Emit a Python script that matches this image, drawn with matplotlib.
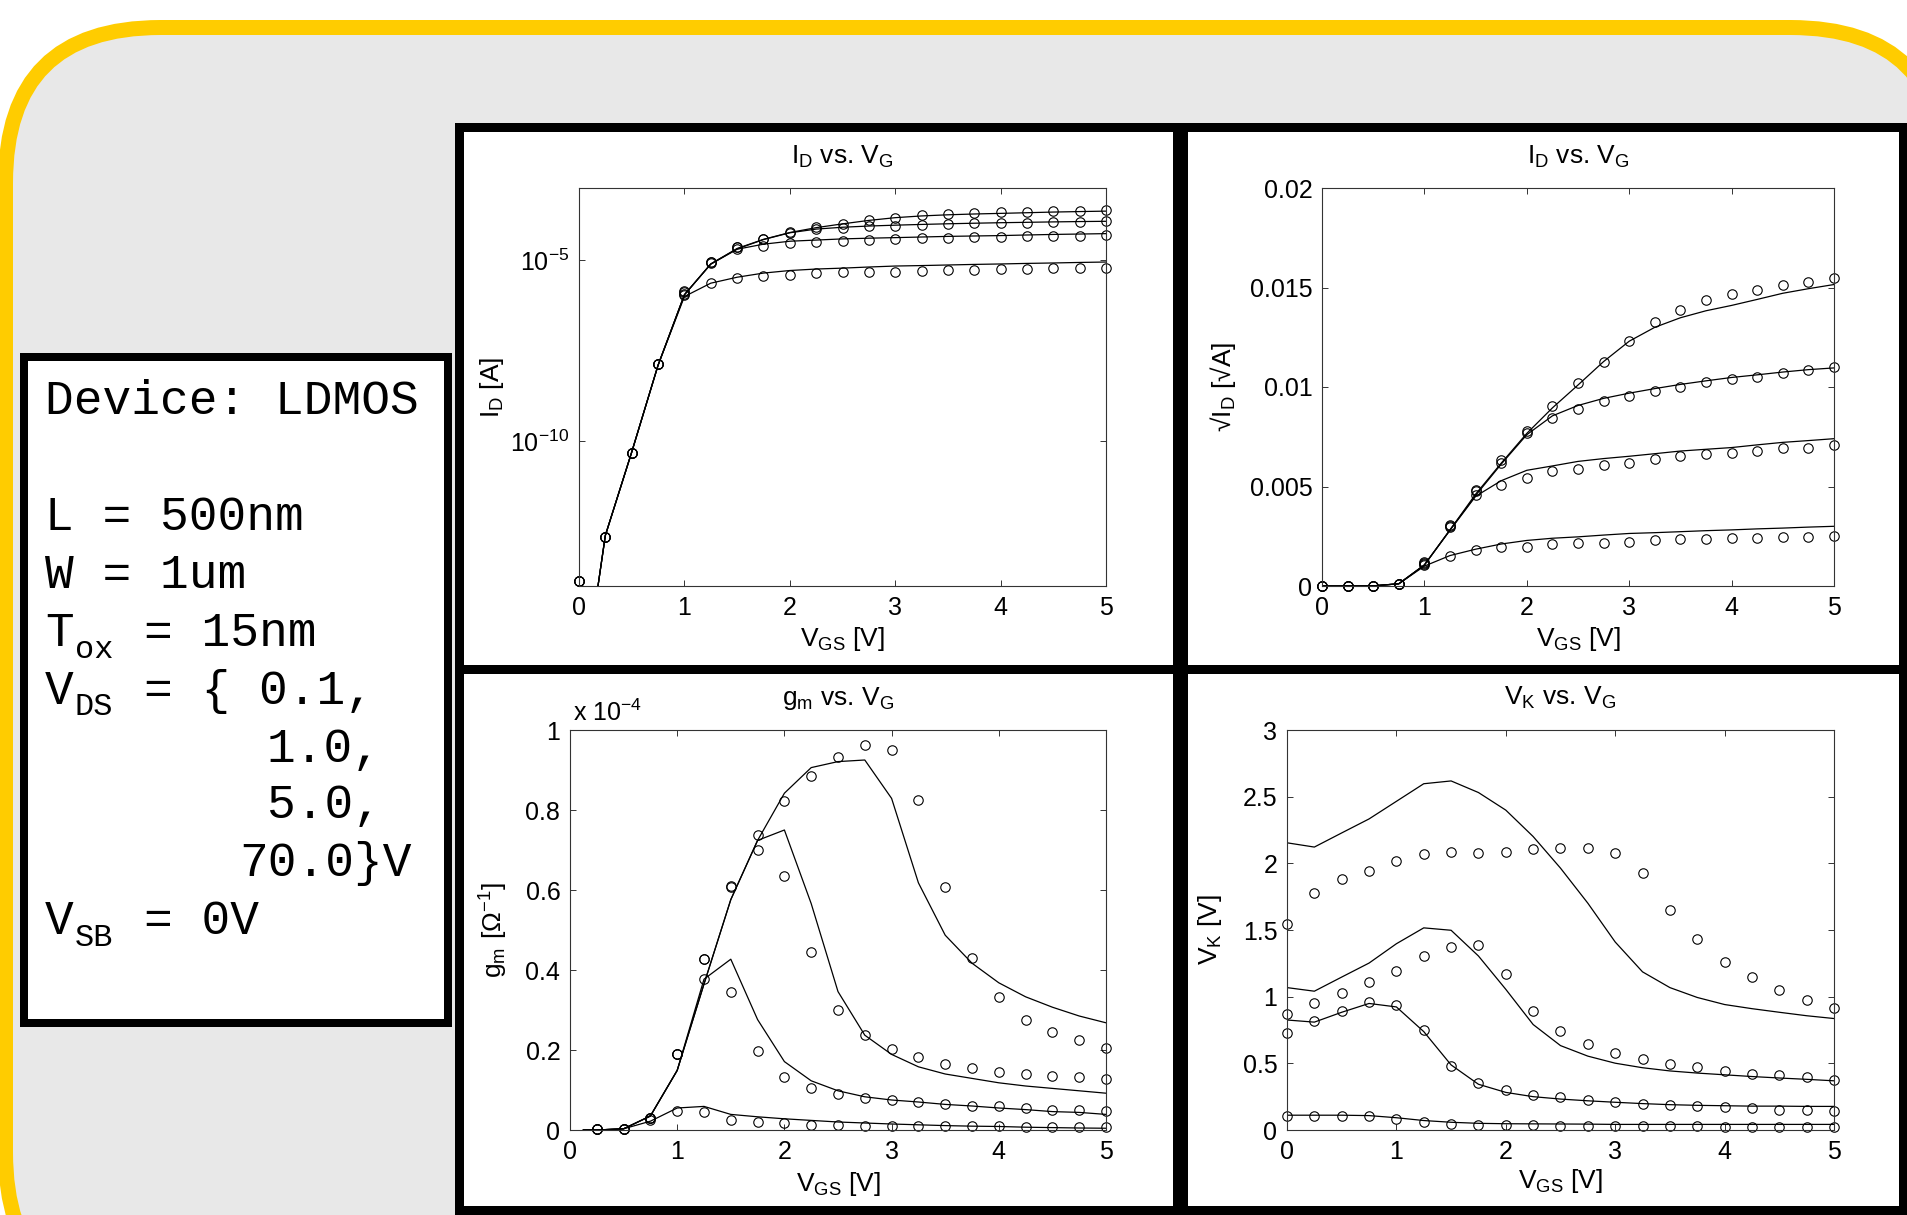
import matplotlib
matplotlib.use("Agg")
import matplotlib.pyplot as plt
import numpy as np
from matplotlib.patches import FancyBboxPatch, Rectangle
from matplotlib.ticker import NullLocator

plt.rcParams["font.family"] = ["Liberation Sans", "DejaVu Sans"]
plt.rcParams["axes.unicode_minus"] = False

W, H = 1908, 1215

# ── Data ──────────────────────────────────────────────────────────────
VGS = [0.0, 0.25, 0.5, 0.75, 1.0, 1.25, 1.5, 1.75, 2.0, 2.25, 2.5,
       2.75, 3.0, 3.25, 3.5, 3.75, 4.0, 4.25, 4.5, 4.75, 5.0]
VDS_LIST = [0.1, 1.0, 5.0, 70.0]

# drain current [A], measured (circles) and model (lines), one list per VDS
id_meas_01 = [1.4e-14, 2.3e-13, 4.7e-11, 1.35e-8, 1.12e-6, 2.34e-6, 3.24e-6, 3.76e-6, 3.88e-6, 4.45e-6, 4.62e-6,
              4.62e-6, 4.84e-6, 5.24e-6, 5.48e-6, 5.48e-6, 5.81e-6, 5.81e-6, 6.10e-6, 6.10e-6, 6.25e-6]
id_meas_1 = [1.4e-14, 2.3e-13, 4.7e-11, 1.35e-8, 1.21e-6, 8.70e-6, 2.10e-5, 2.56e-5, 2.95e-5, 3.32e-5, 3.48e-5,
             3.70e-5, 3.84e-5, 4.07e-5, 4.25e-5, 4.37e-5, 4.44e-5, 4.60e-5, 4.78e-5, 4.84e-5, 5.01e-5]
id_meas_5 = [1.4e-14, 2.3e-13, 4.7e-11, 1.35e-8, 1.32e-6, 9.0e-6, 2.30e-5, 3.84e-5, 5.88e-5, 7.16e-5, 7.92e-5,
             8.63e-5, 9.16e-5, 9.62e-5, 9.98e-5, 1.053e-4, 1.082e-4, 1.107e-4, 1.147e-4, 1.182e-4, 1.212e-4]
id_meas_70 = [1.4e-14, 2.3e-13, 4.7e-11, 1.35e-8, 1.44e-6, 9.30e-6, 2.35e-5, 3.98e-5, 6.07e-5, 8.14e-5, 1.036e-4,
              1.272e-4, 1.513e-4, 1.756e-4, 1.929e-4, 2.062e-4, 2.155e-4, 2.217e-4, 2.286e-4, 2.341e-4, 2.393e-4]

id_mod_01 = [2.5e-18, 2.5e-13, 5.0e-11, 1.26e-8, 1.0e-6, 2.34e-6, 3.42e-6, 4.45e-6, 5.24e-6, 5.76e-6, 6.10e-6,
             6.55e-6, 6.97e-6, 7.18e-6, 7.45e-6, 7.73e-6, 7.95e-6, 8.24e-6, 8.47e-6, 8.76e-6, 9.0e-6]
id_mod_1 = [2.5e-18, 2.5e-13, 5.0e-11, 1.26e-8, 1.12e-6, 7.84e-6, 2.03e-5, 2.80e-5, 3.38e-5, 3.64e-5, 3.92e-5,
            4.10e-5, 4.25e-5, 4.42e-5, 4.60e-5, 4.72e-5, 4.84e-5, 5.03e-5, 5.21e-5, 5.34e-5, 5.48e-5]
id_mod_5 = [2.5e-18, 2.5e-13, 5.0e-11, 1.26e-8, 1.12e-6, 7.95e-6, 2.07e-5, 3.75e-5, 5.78e-5, 7.31e-5, 8.23e-5,
            8.89e-5, 9.39e-5, 9.84e-5, 1.026e-4, 1.063e-4, 1.098e-4, 1.126e-4, 1.156e-4, 1.182e-4, 1.201e-4]
id_mod_70 = [2.5e-18, 2.5e-13, 5.0e-11, 1.26e-8, 1.12e-6, 7.95e-6, 2.13e-5, 3.81e-5, 5.88e-5, 8.01e-5, 1.020e-4,
             1.272e-4, 1.513e-4, 1.69e-4, 1.817e-4, 1.913e-4, 1.988e-4, 2.074e-4, 2.164e-4, 2.232e-4, 2.295e-4]

# transconductance, in units of 1e-4 S
VGS_GM_MEAS = [0.25, 0.5, 0.75, 1.0, 1.25, 1.5, 1.75, 2.0, 2.25, 2.5,
               2.75, 3.0, 3.25, 3.5, 3.75, 4.0, 4.25, 4.5, 4.75, 5.0]
VGS_GM_MOD = [0.125, 0.25, 0.5, 0.75, 1.0, 1.25, 1.5, 1.75, 2.0, 2.25, 2.5,
              2.75, 3.0, 3.25, 3.5, 3.75, 4.0, 4.25, 4.5, 4.75, 5.0]
gm_meas_01 = [0.003, 0.003, 0.026, 0.048, 0.044, 0.025, 0.019, 0.0175, 0.013, 0.013,
              0.011, 0.011, 0.0096, 0.0096, 0.0096, 0.0088, 0.007, 0.007, 0.007, 0.007]
gm_meas_1 = [0.003, 0.003, 0.03, 0.189, 0.377, 0.346, 0.197, 0.132, 0.105, 0.09,
             0.079, 0.0746, 0.069, 0.064, 0.06, 0.059, 0.054, 0.05, 0.05, 0.048]
gm_meas_5 = [0.003, 0.003, 0.03, 0.189, 0.427, 0.61, 0.70, 0.636, 0.445, 0.301,
             0.237, 0.202, 0.182, 0.165, 0.155, 0.145, 0.14, 0.134, 0.132, 0.127]
gm_meas_70 = [0.003, 0.003, 0.03, 0.189, 0.427, 0.607, 0.737, 0.822, 0.886, 0.932,
              0.962, 0.95, 0.825, 0.607, 0.43, 0.333, 0.276, 0.246, 0.224, 0.204]

gm_mod_01 = [0, 0, 0.003, 0.022, 0.055, 0.059, 0.039, 0.033, 0.028, 0.024, 0.02,
             0.0175, 0.015, 0.013, 0.011, 0.0096, 0.0088, 0.007, 0.006, 0.005, 0.0044]
gm_mod_1 = [0, 0, 0.003, 0.035, 0.149, 0.377, 0.427, 0.276, 0.171, 0.123, 0.098,
            0.083, 0.075, 0.07, 0.064, 0.06, 0.055, 0.051, 0.046, 0.044, 0.039]
gm_mod_5 = [0, 0, 0.003, 0.035, 0.149, 0.365, 0.576, 0.724, 0.75, 0.566, 0.346,
            0.237, 0.189, 0.158, 0.14, 0.129, 0.118, 0.11, 0.104, 0.098, 0.092]
gm_mod_70 = [0, 0, 0.003, 0.035, 0.149, 0.365, 0.576, 0.724, 0.842, 0.906, 0.921,
             0.925, 0.829, 0.618, 0.487, 0.417, 0.368, 0.333, 0.307, 0.285, 0.268]

# knee voltage [V]
vk_meas_01 = [0.105, 0.105, 0.105, 0.105, 0.079, 0.058, 0.047, 0.04, 0.04, 0.04, 0.032,
              0.032, 0.03, 0.03, 0.028, 0.028, 0.026, 0.026, 0.024, 0.024, 0.024]
vk_meas_1 = [0.725, 0.817, 0.896, 0.962, 0.941, 0.751, 0.482, 0.356, 0.303, 0.264, 0.245,
             0.224, 0.211, 0.198, 0.185, 0.177, 0.171, 0.163, 0.153, 0.15, 0.145]
vk_meas_5 = [0.87, 0.949, 1.028, 1.107, 1.194, 1.305, 1.371, 1.389, 1.168, 0.896, 0.743,
             0.646, 0.58, 0.533, 0.496, 0.475, 0.443, 0.422, 0.414, 0.395, 0.374]
vk_meas_70 = [1.542, 1.774, 1.885, 1.946, 2.017, 2.07, 2.088, 2.078, 2.088, 2.104, 2.114,
              2.114, 2.078, 1.93, 1.653, 1.429, 1.258, 1.147, 1.047, 0.975, 0.915]

vk_mod_01 = [0.111, 0.111, 0.111, 0.108, 0.092, 0.071, 0.058, 0.05, 0.047, 0.046, 0.045,
             0.044, 0.042, 0.042, 0.042, 0.042, 0.042, 0.042, 0.042, 0.042, 0.042]
vk_mod_1 = [0.825, 0.809, 0.883, 0.949, 0.923, 0.738, 0.488, 0.343, 0.282, 0.25, 0.232,
            0.219, 0.208, 0.198, 0.19, 0.185, 0.182, 0.179, 0.179, 0.177, 0.177]
vk_mod_5 = [1.068, 1.041, 1.147, 1.252, 1.397, 1.516, 1.498, 1.305, 1.055, 0.791, 0.633,
            0.554, 0.501, 0.467, 0.443, 0.427, 0.414, 0.401, 0.39, 0.38, 0.369]
vk_mod_70 = [2.154, 2.122, 2.228, 2.333, 2.465, 2.597, 2.618, 2.531, 2.399, 2.201, 1.964,
             1.701, 1.41, 1.186, 1.068, 0.994, 0.941, 0.91, 0.883, 0.857, 0.836]

ID_MEAS = [id_meas_01, id_meas_1, id_meas_5, id_meas_70]
ID_MOD = [id_mod_01, id_mod_1, id_mod_5, id_mod_70]
GM_MEAS = [gm_meas_01, gm_meas_1, gm_meas_5, gm_meas_70]
GM_MOD = [gm_mod_01, gm_mod_1, gm_mod_5, gm_mod_70]
VK_MEAS = [vk_meas_01, vk_meas_1, vk_meas_5, vk_meas_70]
VK_MOD = [vk_mod_01, vk_mod_1, vk_mod_5, vk_mod_70]

X_TICKS = [0, 1, 2, 3, 4, 5]
SQRT_TICKS = [0, 0.005, 0.01, 0.015, 0.02]
SQRT_LABELS = ["0", "0.005", "0.01", "0.015", "0.02"]
GM_TICKS = [0, 0.2, 0.4, 0.6, 0.8, 1]
GM_LABELS = ["0", "0.2", "0.4", "0.6", "0.8", "1"]
VK_TICKS = [0, 0.5, 1, 1.5, 2, 2.5, 3]
VK_LABELS = ["0", "0.5", "1", "1.5", "2", "2.5", "3"]

PX = 72 / 100  # points per pixel at dpi=100

# ── Background ────────────────────────────────────────────────────────
fig = plt.figure(figsize=(W / 100, H / 100), dpi=100)
bg = fig.add_axes([0, 0, 1, 1])
bg.set_xlim(0, W)
bg.set_ylim(H, 0)
bg.axis("off")

bg.add_patch(FancyBboxPatch((5.5, 27.5), 1940, 1280,
                            boxstyle="round,pad=0,rounding_size=155",
                            fc="#E8E8E8", ec="#FFCC00", lw=15 * PX))

# info box
bg.add_patch(Rectangle((24, 357), 424, 666, fc="white", ec="black", lw=8 * PX))
mono = "Liberation Mono"
big, small = 34.5, 23
lines = [
    (45, 414, "Device: LDMOS", big),
    (45, 530, "L = 500nm", big),
    (45, 588, "W = 1um", big),
    (45, 646, "T", big), (75, 658, "ox", small), (144.5, 646, "= 15nm", big),
    (45, 704, "V", big), (75, 715, "DS", small), (144.5, 704, "= { 0.1,", big),
    (267, 762, "1.0,", big),
    (267, 818, "5.0,", big),
    (239, 876, "70.0}V", big),
    (45, 934, "V", big), (75, 946, "SB", small), (144.5, 934, "= 0V", big),
]
for x, y, s, fs in lines:
    bg.text(x, y, s, family=mono, fontsize=fs, ha="left", va="baseline")

# panel frames
bg.add_patch(Rectangle((459, 127), 1444, 1083, fc="white", ec="black", lw=9 * PX))
bg.plot([1180.5, 1180.5], [127, 1210], color="black", lw=15 * PX, solid_capstyle="butt")
bg.plot([459, 1903], [668.5, 668.5], color="black", lw=9 * PX, solid_capstyle="butt")


# ── Plot panels ───────────────────────────────────────────────────────
def px_axes(l, t, r, b):
    return fig.add_axes([l / W, 1 - b / H, (r - l) / W, (b - t) / H])


def style(ax, title, xlab_y, ylab, ylab_x, t_off):
    ax.set_xlim(0, 5)
    ax.set_xticks(X_TICKS)
    ax.set_xticklabels([str(t) for t in X_TICKS])
    ax.tick_params(direction="in", length=4.5, width=0.7, top=True, right=True,
                   labelsize=18, pad=7, color="#333333")
    for sp in ax.spines.values():
        sp.set_linewidth(0.8)
        sp.set_color("#333333")
    ax.set_xlabel(r"$\mathregular{V_{GS}}$ [V]", fontsize=19)
    ax.xaxis.set_label_coords(0.5, xlab_y)
    ax.set_ylabel(ylab, fontsize=19)
    ax.yaxis.set_label_coords(ylab_x, 0.5)
    ax.text(0.5, 1 + t_off, title, transform=ax.transAxes, ha="center",
            va="baseline", fontsize=19)


def draw(ax, xm, meas, xl, model):
    for m, l in zip(meas, model):
        ax.plot(xl, l, "-", color="black", lw=0.9)
        ax.plot(xm, m, "o", mfc="none", mec="black", ms=6.8, mew=0.8, clip_on=False)


# ID vs VG, log scale
ax1 = px_axes(579, 188, 1106, 586)
draw(ax1, VGS, ID_MEAS, VGS, ID_MOD)
ax1.set_yscale("log")
ax1.set_ylim(1e-14, 1e-3)
ax1.set_yticks([1e-10, 1e-5])
ax1.yaxis.set_minor_locator(NullLocator())
style(ax1, r"$\mathregular{I_D}$ vs. $\mathregular{V_G}$", -0.098,
      r"$\mathregular{I_D}$ [A]", -0.138, 24 / 398)

# sqrt(ID) vs VG
ax2 = px_axes(1322, 188, 1834, 586)
draw(ax2, VGS, [np.sqrt(v) for v in ID_MEAS], VGS, [np.sqrt(v) for v in ID_MOD])
ax2.set_ylim(0, 0.02)
ax2.set_yticks(SQRT_TICKS)
ax2.set_yticklabels(SQRT_LABELS)
style(ax2, r"$\mathregular{I_D}$ vs. $\mathregular{V_G}$", -0.098,
      r"$\mathregular{√I_D}$ [√A]", -0.164, 24 / 398)

# gm vs VG
ax3 = px_axes(570, 730, 1106, 1130)
draw(ax3, VGS_GM_MEAS, GM_MEAS, VGS_GM_MOD, GM_MOD)
ax3.set_ylim(0, 1)
ax3.set_yticks(GM_TICKS)
ax3.set_yticklabels(GM_LABELS)
style(ax3, r"$\mathregular{g_m}$ vs. $\mathregular{V_G}$", -0.10,
      r"$\mathregular{g_m\ [\Omega^{-1}]}$", -0.112, 25 / 400)
ax3.text(0.005, 1 + 9 / 400, r"x $\mathregular{10^{-4}}$", transform=ax3.transAxes,
         ha="left", va="baseline", fontsize=18)

# VK vs VG
ax4 = px_axes(1287, 730, 1834, 1130)
draw(ax4, VGS, VK_MEAS, VGS, VK_MOD)
ax4.set_ylim(0, 3)
ax4.set_yticks(VK_TICKS)
ax4.set_yticklabels(VK_LABELS)
style(ax4, r"$\mathregular{V_K}$ vs. $\mathregular{V_G}$", -0.0925,
      r"$\mathregular{V_K}$ [V]", -0.115, 25 / 400)

fig.savefig("out.png", dpi=100)
